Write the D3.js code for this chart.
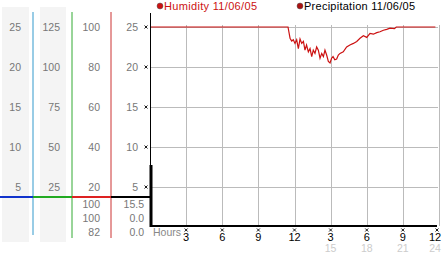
<!DOCTYPE html>
<html>
<head>
<meta charset="utf-8">
<script src="https://cdn.jsdelivr.net/npm/d3@7"></script>
<style>
  body { margin: 0; background: #fff; }
  svg { display: block; font-family: "Liberation Sans", Arial, sans-serif; }
</style>
</head>
<body>
<div id="chart"></div>
<script>
/* Humidity / precipitation day chart */

// humidity readings (hour of day, value)
const hours = [0, 11.46, 11.63, 11.77, 11.9, 12.04, 12.18, 12.32, 12.46, 12.6, 12.74, 12.87, 13.0,
  13.15, 13.29, 13.43, 13.56, 13.7, 13.84, 13.98, 14.12, 14.26, 14.4, 14.53, 14.67, 14.81, 14.95,
  15.08, 15.2, 15.35, 15.5, 15.64, 15.78, 16.05, 16.33, 16.6, 16.89, 17.17, 17.44, 17.72, 18.0,
  18.27, 18.55, 18.83, 19.1, 19.38, 19.66, 19.93, 20.3, 20.45, 23.7];
const humidity = [25, 25, 23.6, 23.25, 23.4, 22.95, 23.4, 22.3, 23.5, 22.95, 23.2, 22.1, 22.75,
  21.9, 22.3, 21.3, 22.1, 21.7, 22.5, 22.1, 21.1, 21.7, 21.3, 22.1, 21.5, 20.7, 20.5,
  21.1, 21.3, 20.9, 21.0, 21.5, 21.7, 21.9, 22.5, 22.75, 22.95, 23.2, 23.6, 23.9, 23.7,
  24.2, 24.1, 24.3, 24.4, 24.6, 24.7, 24.85, 24.8, 25, 25];

// precipitation
const precipHours = [0];
const precipValues = [15.5];

// left scale columns
const col1Ticks = [5, 10, 15, 20, 25];
const col2Ticks = [25, 50, 75, 100, 125];
const col3Ticks = [20, 40, 60, 80, 100];
const col4Ticks = [5, 10, 15, 20, 25];
const col3Readout = ["100", "100", "82"];
const col4Readout = ["15.5", "0.0", "0.0"];

// x axis
const hourTicks = [3, 6, 9, 12, 15, 18, 21, 24];
const hourLabels = ["3", "6", "9", "12", "3", "6", "9", "12"];
const hourLabels2 = ["", "", "", "", "15", "18", "21", "24"];

const legendItems = [
  { name: "Humidity 11/06/05", color: "#cc1111", text: "#cc1111", len: 93 },
  { name: "Precipitation 11/06/05", color: "#aa1111", text: "#000", len: 111 }
];

const width = 442, height = 253;

let svg = d3.select("#chart")
  .append("svg")
  .attr("width", width)
  .attr("height", height);

// scales
let x = d3.scaleLinear().domain([0, 24]).range([150, 439]);
let y = d3.scaleLinear().domain([0, 25]).range([227, 27]);
let y2 = d3.scaleLinear().domain([0, 125]).range([227, 27]);
let y3 = d3.scaleLinear().domain([0, 100]).range([227, 27]);
let yp = d3.scaleLinear().domain([0, 50]).range([227, 27]);

// shaded backgrounds behind first two columns
svg.append("rect").attr("x", 2).attr("y", 7).attr("width", 27).attr("height", 235).attr("fill", "#f4f4f4");
svg.append("rect").attr("x", 40).attr("y", 7).attr("width", 26).attr("height", 235).attr("fill", "#f4f4f4");

// column axes
function column(scale, ticks, xPos) {
  let g = svg.append("g")
    .attr("transform", `translate(${xPos},0)`)
    .call(d3.axisLeft(scale).tickValues(ticks).tickSize(0).tickPadding(0));
  g.select(".domain").remove();
  g.selectAll("text")
    .attr("fill", "#777")
    .style("font-size", "10.5px")
    .attr("font-family", "Liberation Sans, Arial, sans-serif");
  return g;
}
column(y, col1Ticks, 21);
column(y2, col2Ticks, 60);
column(y3, col3Ticks, 100);
column(y, col4Ticks, 138);

// column separator lines
const sepLines = [
  { x: 33, y2: 235, c: "#3399cc" },
  { x: 72, y2: 238, c: "#33aa33" },
  { x: 111, y2: 238, c: "#cc3333" }
];
svg.selectAll(".sep").data(sepLines).join("line")
  .attr("x1", d => d.x).attr("x2", d => d.x)
  .attr("y1", 12).attr("y2", d => d.y2)
  .attr("stroke", d => d.c).attr("stroke-width", 1);

// coloured baseline strip
const strip = [
  { x1: 0, x2: 33, c: "#1133cc" },
  { x1: 33, x2: 72, c: "#22aa22" },
  { x1: 72, x2: 111, c: "#dd2222" },
  { x1: 111, x2: 150, c: "#000" }
];
svg.selectAll(".strip").data(strip).join("line")
  .attr("x1", d => d.x1).attr("x2", d => d.x2)
  .attr("y1", 197).attr("y2", 197)
  .attr("stroke", d => d.c).attr("stroke-width", 2);

// readout values under the strip
svg.selectAll(".r3").data(col3Readout).join("text")
  .attr("x", 100).attr("y", (d, i) => 208 + i * 14)
  .attr("text-anchor", "end").attr("fill", "#777").style("font-size", "10.5px")
  .text(d => d);
svg.selectAll(".r4").data(col4Readout).join("text")
  .attr("x", 144).attr("y", (d, i) => 208 + i * 14)
  .attr("text-anchor", "end").attr("fill", "#777").style("font-size", "10.5px")
  .text(d => d);

// grid
svg.append("g").selectAll("line").data(col4Ticks).join("line")
  .attr("x1", 150).attr("x2", 438)
  .attr("y1", d => y(d) + 0.5).attr("y2", d => y(d) + 0.5)
  .attr("stroke", "#bbb");
svg.append("g").selectAll("line").data(hourTicks).join("line")
  .attr("x1", d => Math.round(x(d)) + 0.5).attr("x2", d => Math.round(x(d)) + 0.5)
  .attr("y1", 25).attr("y2", 226)
  .attr("stroke", "#bbb");

// small markers
function marker(cx, cy) {
  svg.append("path")
    .attr("d", `M${cx - 1.5},${cy - 1.5}L${cx + 1.5},${cy + 1.5}M${cx + 1.5},${cy - 1.5}L${cx - 1.5},${cy + 1.5}`)
    .attr("stroke", "#000").attr("stroke-width", 0.9);
}
col4Ticks.forEach(t => marker(146, y(t)));
hourTicks.forEach(t => marker(Math.min(x(t), 437), 230));

// humidity line
let line = d3.line().x(d => x(d[0])).y(d => y(d[1]));
svg.append("path")
  .datum(hours.map((h, i) => [h, humidity[i]]))
  .attr("d", line)
  .attr("fill", "none")
  .attr("stroke", "#cc1111")
  .attr("stroke-width", 1.2);

// precipitation bars
svg.selectAll(".precip").data(precipValues).join("rect")
  .attr("x", (d, i) => x(precipHours[i]) - 0.5)
  .attr("y", d => yp(d))
  .attr("width", 3)
  .attr("height", d => yp(0) - yp(d))
  .attr("fill", "#000");

// axes lines
svg.append("line").attr("x1", 150.5).attr("x2", 150.5).attr("y1", 13).attr("y2", 227)
  .attr("stroke", "#000");
svg.append("line").attr("x1", 150).attr("x2", 437).attr("y1", 226).attr("y2", 226)
  .attr("stroke", "#000").attr("stroke-width", 2);

// x tick labels
svg.append("text").attr("x", 153).attr("y", 236).attr("fill", "#888")
  .style("font-size", "10.5px").text("Hours");
svg.selectAll(".xl").data(hourTicks).join("text")
  .attr("x", d => Math.min(x(d), 435)).attr("y", 241)
  .attr("text-anchor", "middle").attr("fill", "#000").style("font-size", "11px")
  .text((d, i) => hourLabels[i]);
svg.selectAll(".xl2").data(hourTicks).join("text")
  .attr("x", d => Math.min(x(d), 435)).attr("y", 252)
  .attr("text-anchor", "middle").attr("fill", "#ccc").style("font-size", "10.5px")
  .text((d, i) => hourLabels2[i]);

// legend
const legendX = [160, 300];
legendItems.forEach((d, i) => {
  svg.append("circle").attr("cx", legendX[i]).attr("cy", 6).attr("r", 3)
    .attr("fill", d.color).attr("stroke", "#555").attr("stroke-width", 0.5);
  svg.append("text").attr("x", legendX[i] + 4).attr("y", 10)
    .attr("fill", d.text).style("font-size", "11px")
    .attr("textLength", d.len).attr("lengthAdjust", "spacing")
    .text(d.name);
});
</script>
</body>
</html>
